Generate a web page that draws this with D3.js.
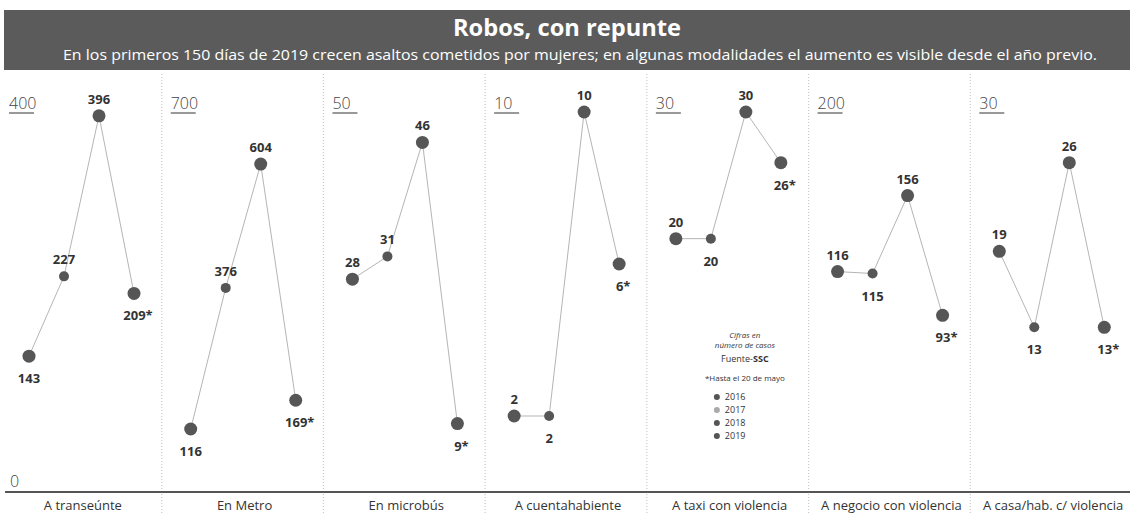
<!DOCTYPE html>
<html>
<head>
<meta charset="utf-8">
<script src="https://cdn.jsdelivr.net/npm/d3@7"></script>
<style>
  body { margin: 0; background: #fff; }
  svg { display: block; font-family: "Open Sans", "Noto Sans", sans-serif; }
  .label { font-weight: 700; font-size: 13px; fill: #333; }
  .cat { font-size: 13px; fill: #333; }
  .tick-top { font-size: 16px; font-weight: 300; fill: #444; }
</style>
</head>
<body>
<svg id="chart" width="1134" height="514"></svg>
<script>
var categories = ["A transeúnte", "En Metro", "En microbús", "A cuentahabiente", "A taxi con violencia", "A negocio con violencia", "A casa/hab. c/ violencia"];
var years = ["2016", "2017", "2018", "2019"];
var axisMax = [400, 700, 50, 10, 30, 200, 30];
var v2016 = [143, 116, 28, 2, 20, 116, 19];
var v2017 = [227, 376, 31, 2, 20, 115, 13];
var v2018 = [396, 604, 46, 10, 30, 156, 26];
var v2019 = [209, 169, 9, 6, 26, 93, 13];

var series = [v2016, v2017, v2018, v2019];
var data = categories.map(function(c, i) {
    return { cat: c, max: axisMax[i], pts: years.map(function(y, j) { return { year: y, value: series[j][i] }; }) };
});

var svg = d3.select("#chart");

// banner
svg.append("rect").attr("x", 4).attr("y", 10).attr("width", 1126).attr("height", 60).attr("fill", "#5b5b5b");
svg.append("text").attr("x", 567).attr("y", 36).attr("text-anchor", "middle")
    .attr("fill", "#fff").style("font-size", "23px").style("font-weight", 700)
    .attr("textLength", 228).attr("lengthAdjust", "spacingAndGlyphs")
    .text("Robos, con repunte");
svg.append("text").attr("x", 580).attr("y", 60).attr("text-anchor", "middle")
    .attr("fill", "#fff").style("font-size", "15px")
    .attr("textLength", 1034).attr("lengthAdjust", "spacingAndGlyphs")
    .text("En los primeros 150 días de 2019 crecen asaltos cometidos por mujeres; en algunas modalidades el aumento es visible desde el año previo.");

var x = d3.scaleBand().domain(categories).range([0, 1132]);
var px = d3.scalePoint().domain(years).range([29, 134]);
var baseY = 492, topY = 112;

// separators
svg.selectAll(".sep")
    .data(categories.slice(1))
    .enter().append("line")
    .attr("class", "sep")
    .attr("x1", function(d) { return x(d); }).attr("x2", function(d) { return x(d); })
    .attr("y1", 74).attr("y2", 514)
    .attr("stroke", "#c8c8c8").attr("stroke-width", 1.2).attr("stroke-dasharray", "1,2");

// baseline
svg.append("line").attr("x1", 5).attr("x2", 1130).attr("y1", baseY).attr("y2", baseY)
    .attr("stroke", "#555").attr("stroke-width", 2);
svg.append("text").attr("class", "tick-top").attr("x", 10).attr("y", baseY - 5).text("0");

var line = d3.line();

data.forEach(function(d, i) {
    var x0 = x(d.cat);
    var y = d3.scaleLinear().domain([0, d.max]).range([baseY, topY]);
    var g = svg.append("g").attr("transform", "translate(" + x0 + ",0)");

    g.append("text").attr("class", "tick-top").attr("x", 9).attr("y", y(d.max) - 3).text(d.max);
    g.append("line").attr("x1", 9).attr("x2", 34).attr("y1", y(d.max) + 1).attr("y2", y(d.max) + 1)
        .attr("stroke", "#555").attr("stroke-width", 1.2);

    g.append("path")
        .attr("d", line(d.pts.map(function(p) { return [px(p.year), y(p.value)]; })))
        .attr("fill", "none").attr("stroke", "#b5b5b5").attr("stroke-width", 1);

    g.selectAll(".dot")
        .data(d.pts)
        .enter().append("circle")
        .attr("class", "dot")
        .attr("cx", function(p) { return px(p.year); })
        .attr("cy", function(p) { return y(p.value); })
        .attr("r", function(p, j) { return j == 1 ? 5 : 6.5; })
        .attr("fill", "#565656");

    g.selectAll(".label")
        .data(d.pts)
        .enter().append("text")
        .attr("class", "label")
        .attr("text-anchor", "middle")
        .attr("x", function(p, j) { return px(p.year) + (j == 3 ? 4 : 0); })
        .attr("y", function(p, j) {
            var prev = j > 0 ? d.pts[j - 1].value : null,
                next = j < 3 ? d.pts[j + 1].value : null;
            var below = j == 0 ? next > p.value * 1.2
                : (p.value <= prev && (next === null || p.value <= next));
            return below ? y(p.value) + 27 : y(p.value) - 12;
        })
        .text(function(p, j) { return p.value + (j == 3 ? "*" : ""); });

    g.append("text").attr("class", "cat").attr("text-anchor", "middle")
        .attr("x", x.bandwidth() / 2 + 2).attr("y", 510).text(d.cat);
});

// legend / notes
var lx = x(categories[4]) + 98;
var notes = svg.append("g").attr("transform", "translate(" + lx + ",0)")
    .style("fill", "#333").attr("text-anchor", "middle");
notes.append("text").attr("y", 338).style("font-size", "8px").style("font-style", "italic").text("Cifras en");
notes.append("text").attr("y", 348).style("font-size", "8px").style("font-style", "italic").text("número de casos");
var f = notes.append("text").attr("y", 362).style("font-size", "9px");
f.append("tspan").text("Fuente-");
f.append("tspan").style("font-weight", 700).text("SSC");
notes.append("text").attr("y", 381).style("font-size", "8px").text("*Hasta el 20 de mayo");

var leg = notes.selectAll(".leg")
    .data(years)
    .enter().append("g")
    .attr("class", "leg")
    .attr("transform", function(d, i) { return "translate(-28," + (400 + i * 13) + ")"; });
leg.append("circle").attr("r", 3).attr("cy", -3).attr("fill", function(d, i) { return i == 1 ? "#aaa" : "#555"; });
leg.append("text").attr("x", 8).attr("text-anchor", "start").style("font-size", "9px").text(function(d) { return d; });
</script>
</body>
</html>
